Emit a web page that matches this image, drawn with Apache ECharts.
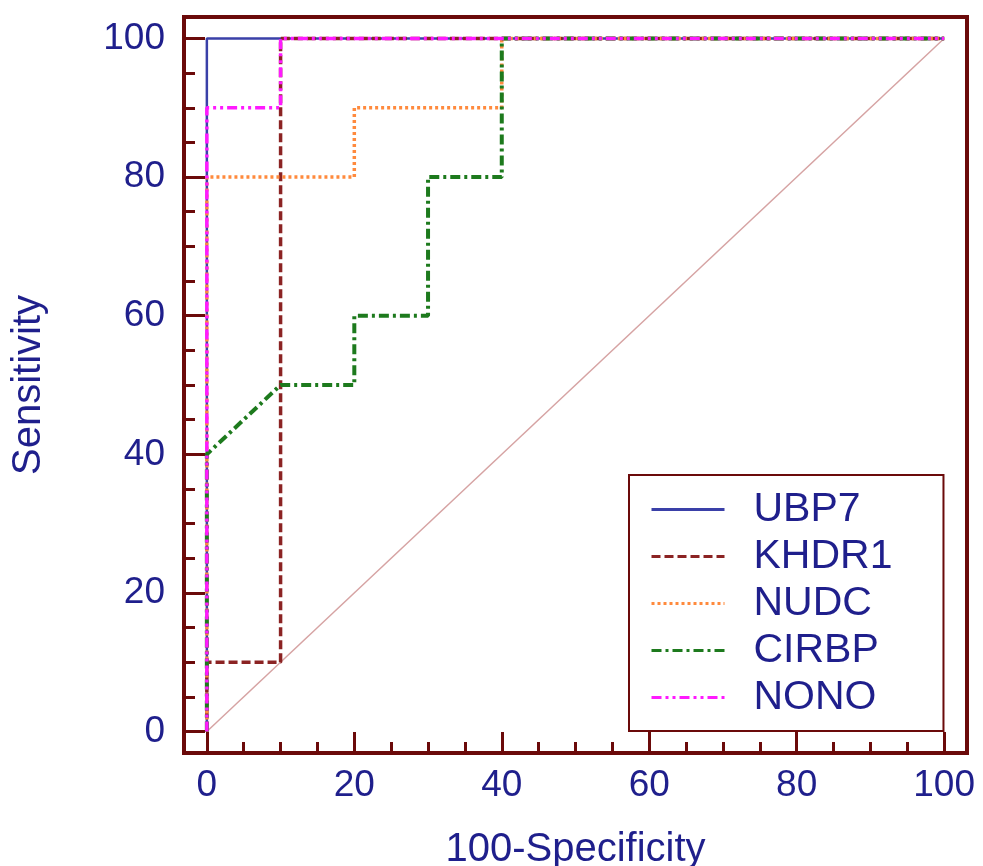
<!DOCTYPE html>
<html>
<head>
<meta charset="utf-8">
<script src="https://cdn.jsdelivr.net/npm/echarts@6/dist/echarts.min.js"></script>
<style>
  html, body { margin: 0; padding: 0; background: #fff; }
  #main { width: 983px; height: 866px; }
</style>
</head>
<body>
<div id="main"></div>
<script>
// ROC curves, each point is [100-Specificity, Sensitivity]
var ubp7 = [[0, 0], [0, 100], [100, 100]];
var khdr1 = [[0, 0], [0, 10], [10, 10], [10, 100], [100, 100]];
var nudc = [[0, 0], [0, 80], [20, 80], [20, 90], [40, 90], [40, 100], [100, 100]];
var cirbp = [[0, 0], [0, 40], [10, 50], [20, 50], [20, 60], [30, 60], [30, 80], [40, 80], [40, 100], [100, 100]];
var nono = [[0, 0], [0, 90], [10, 90], [10, 100], [100, 100]];
var refLine = [[0, 0], [100, 100]];

var seriesNames = ['UBP7', 'KHDR1', 'NUDC', 'CIRBP', 'NONO'];
var majorTicks = [0, 20, 40, 60, 80, 100];
var minorTicks = [5, 10, 15, 25, 30, 35, 45, 50, 55, 65, 70, 75, 85, 90, 95];

var frameColor = '#6b0a0a';
var textColor = '#1f1f8c';
var font = 'Liberation Sans, Arial, sans-serif';

var chart = echarts.init(document.getElementById('main'));

function mainAxis(isX) {
  return {
    type: 'value',
    min: -3.1,
    max: 103.1,
    position: isX ? 'bottom' : 'left',
    splitLine: { show: false },
    axisLine: { show: false, onZero: false },
    axisTick: {
      show: true,
      inside: true,
      length: 21,
      customValues: majorTicks,
      lineStyle: { color: frameColor, width: 3 }
    },
    axisLabel: {
      customValues: majorTicks,
      color: textColor,
      fontSize: 37,
      fontFamily: font,
      margin: isX ? 14 : 19
    },
    name: isX ? '100-Specificity' : 'Sensitivity',
    nameLocation: 'middle',
    nameGap: isX ? 77 : 135,
    nameTextStyle: { color: textColor, fontSize: 40, fontFamily: font }
  };
}

function minorAxis(isX) {
  return {
    type: 'value',
    min: -3.1,
    max: 103.1,
    position: isX ? 'bottom' : 'left',
    splitLine: { show: false },
    axisLine: { show: false, onZero: false },
    axisLabel: { show: false },
    axisTick: {
      show: true,
      inside: true,
      length: 11,
      customValues: minorTicks,
      lineStyle: { color: frameColor, width: 3 }
    }
  };
}

function rocSeries(name, data, color, width, dash) {
  return {
    name: name,
    type: 'line',
    data: data,
    symbol: 'none',
    xAxisIndex: 0,
    yAxisIndex: 0,
    lineStyle: { color: color, width: width, type: dash },
    itemStyle: { color: color },
    z: 3
  };
}

var option = {
  animation: false,
  backgroundColor: '#fff',
  grid: {
    left: 184,
    right: 16,
    top: 17,
    bottom: 113,
    outerBoundsMode: 'none',
    show: true,
    borderColor: frameColor,
    borderWidth: 4,
    backgroundColor: 'transparent'
  },
  xAxis: [mainAxis(true), minorAxis(true)],
  yAxis: [mainAxis(false), minorAxis(false)],
  legend: {
    data: seriesNames,
    orient: 'vertical',
    left: 629,
    top: 475,
    padding: [11, 51, 10, 21],
    itemGap: 0,
    itemWidth: 73,
    itemHeight: 14,
    borderColor: frameColor,
    borderWidth: 2,
    backgroundColor: '#fff',
    itemStyle: { opacity: 0 },
    lineStyle: { width: 3 },
    textStyle: {
      color: textColor,
      fontSize: 41,
      fontFamily: font,
      lineHeight: 47,
      padding: [0, 0, 0, 24]
    }
  },
  series: [
    {
      name: 'ref',
      type: 'line',
      data: refLine,
      symbol: 'none',
      lineStyle: { color: '#d6a3a3', width: 1.5 },
      z: 2
    },
    rocSeries('UBP7', ubp7, '#3a40a8', 2.5, 'solid'),
    rocSeries('KHDR1', khdr1, '#8b2323', 3.5, [9, 4]),
    rocSeries('NUDC', nudc, '#ff8a3d', 3.5, [3, 3]),
    rocSeries('CIRBP', cirbp, '#1d7a1d', 4, [10, 4, 3, 4]),
    rocSeries('NONO', nono, '#ff1aff', 3.5, [10, 4, 3, 4, 3, 4])
  ]
};

chart.setOption(option);
</script>
</body>
</html>
